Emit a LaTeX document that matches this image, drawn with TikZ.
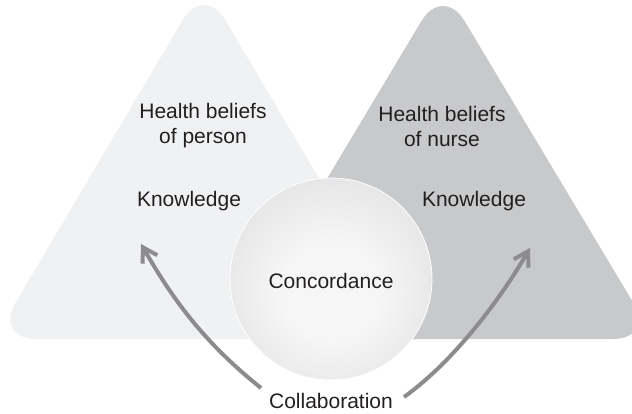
\documentclass[tikz,border=0pt]{standalone}
\usepackage{fontspec}
\setmainfont{Liberation Sans}
\usetikzlibrary{arrows.meta}
\definecolor{triL}{RGB}{240,241,243}
\definecolor{triR}{RGB}{200,201,203}
\definecolor{ballin}{RGB}{246,246,247}
\definecolor{ballout}{RGB}{204,205,207}
\definecolor{arrowgray}{RGB}{140,140,142}
\definecolor{txt}{RGB}{35,31,32}
\pgfdeclareradialshading{ballshade}{\pgfpoint{0bp}{-4bp}}{color(0bp)=(ballin); color(12bp)=(ballin); color(52bp)=(ballout); color(60bp)=(ballout)}
\tikzset{
  label/.style={text=txt, font=\fontsize{21}{25}\selectfont, align=center, inner sep=2pt},
  tri/.style={rounded corners=42pt},
  collab/.style={draw=arrowgray, line width=4pt, -{Straight Barb[length=14pt,width=17pt]}}
}
\begin{document}
\begin{tikzpicture}[x=1pt,y=-1pt]
\useasboundingbox (0,0) rectangle (632,413);
% triangles
\fill[triL, tri] (204,-16) -- (414,339) -- (-6,339) -- cycle;
\fill[triR, tri] (443,-15) -- (655,339) -- (231,339) -- cycle;
% circle
\shade[shading=ballshade, draw=white, line width=0.8pt] (331,279) circle[radius=101];
% texts
\node[label] (hbp) at (203,126) {Health beliefs\\of person};
\node[label] (hbn) at (442,126) {Health beliefs\\of nurse};
\node[label] (kl) at (189,201) {Knowledge};
\node[label] (kr) at (474,201) {Knowledge};
\node[label] (conc) at (331,281) {Concordance};
\node[label] (collab) at (331,401) {Collaboration};
% arrow ends
\coordinate (ls) at (261,388);
\coordinate (le) at (141,244);
\coordinate (rs) at (404,397);
\coordinate (re) at (530,248);
\draw[collab] (ls) .. controls (201,340) and (171,296) .. (le);
\draw[collab] (rs) .. controls (453,362) and (500,300) .. (re);
\end{tikzpicture}
\end{document}
